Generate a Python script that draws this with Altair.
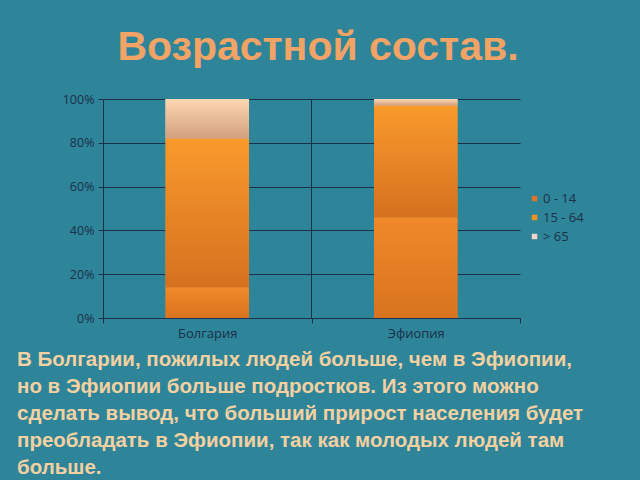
import altair as alt
import pandas as pd

countries = ["Болгария", "Эфиопия"]
groups = ["0 - 14", "15 - 64", "> 65"]
bulgaria = [14, 68, 18]
ethiopia = [46, 51, 3]
y_ticks = [0, 0.2, 0.4, 0.6, 0.8, 1.0]
title_text = "Возрастной состав."
paragraph = [
    "В Болгарии, пожилых людей больше, чем в Эфиопии,",
    "но  в  Эфиопии  больше  подростков.  Из  этого  можно",
    "сделать вывод, что  больший прирост населения будет",
    "преобладать  в Эфиопии, так как  молодых людей там",
    "больше.",
]

BG = "#2E8599"
DARK = "#1B3049"
legend_colors = ["#D9772A", "#F0901F", "#F2D4C8"]
gradients = {
    "0 - 14": ["#F0892A", "#D8731F"],
    "15 - 64": ["#F99A2C", "#D5711F"],
    "> 65": ["#FDD7B2", "#D2A07C"],
}

rows = []
for c, vals in zip(countries, [bulgaria, ethiopia]):
    for i, (g, v) in enumerate(zip(groups, vals)):
        rows.append({"country": c, "group": g, "order": i, "value": v})
df = pd.DataFrame(rows)

W, H = 417, 219
PL, PT = 103, 99

base = alt.Chart(df).transform_stack(
    stack="value", groupby=["country"], sort=[alt.SortField("order")],
    offset="normalize", as_=["y0", "y1"]
)

xenc = alt.X(
    "country:N", sort=countries, title=None,
    scale=alt.Scale(paddingInner=0, paddingOuter=0),
    axis=alt.Axis(tickBand="extent", grid=False, labelColor=DARK, labelFontSize=13,
                  labelFont="Open Sans", domainColor=DARK, tickColor=DARK, tickSize=5,
                  labelPadding=4, labelAngle=0),
)
yenc = alt.Y(
    "y0:Q", title=None,
    scale=alt.Scale(domain=[0, 1]),
    axis=alt.Axis(values=y_ticks, format=".0%", grid=True, gridColor=DARK, gridWidth=1,
                  labelColor=DARK, labelFontSize=12.5, labelFont="Open Sans",
                  domainColor=DARK, tickColor=DARK, tickSize=5, labelPadding=4),
)

legend_layer = base.mark_bar(width=alt.RelativeBandSize(0.4)).encode(
    x=xenc, y=yenc, y2="y1:Q",
    color=alt.Color("group:N", sort=groups, title=None,
                    scale=alt.Scale(domain=groups, range=legend_colors),
                    legend=alt.Legend(orient="none", legendX=425, legendY=93,
                                      symbolType="square", symbolSize=30,
                                      symbolStrokeWidth=0, labelFontSize=13,
                                      labelFont="Open Sans", labelColor=DARK,
                                      rowPadding=5, labelOffset=2)),
)

grad_layers = []
for g in groups:
    top, bot = gradients[g]
    grad_layers.append(
        base.transform_filter(alt.datum.group == g).mark_bar(
            width=alt.RelativeBandSize(0.4),
            fill=alt.Gradient(gradient="linear",
                              stops=[alt.GradientStop(color=top, offset=0),
                                     alt.GradientStop(color=bot, offset=1)],
                              x1=0, x2=0, y1=0, y2=1),
        ).encode(x=alt.X("country:N", sort=countries), y="y0:Q", y2="y1:Q")
    )

sep = alt.Chart(pd.DataFrame({"country": [countries[1]]})).mark_rule(
    color=DARK, strokeWidth=1
).encode(
    x=alt.X("country:N", sort=countries, bandPosition=0),
    y=alt.value(0), y2=alt.value(H),
)

title_layer = alt.Chart(pd.DataFrame({"t": [title_text]})).mark_text(
    font="Liberation Sans", fontWeight="bold", fontSize=41, color="#F2A365",
    align="center", baseline="alphabetic",
).encode(text="t:N", x=alt.value(318 - PL), y=alt.value(60 - PT))

pdf = pd.DataFrame({"line": paragraph, "idx": list(range(len(paragraph)))})
para_layer = alt.Chart(pdf).transform_calculate(
    ypix=f"{366 - PT} + datum.idx * 27"
).mark_text(
    font="Liberation Sans", fontWeight="bold", fontSize=20.5, color="#F4D0A2",
    align="left", baseline="alphabetic",
).encode(text="line:N", x=alt.value(17 - PL), y=alt.Y("ypix:Q", scale=None))

chart = alt.layer(legend_layer, *grad_layers, sep, title_layer, para_layer).properties(
    width=W, height=H,
    autosize=alt.AutoSizeParams(type="none"),
    padding={"left": PL, "top": PT, "right": 640 - PL - W, "bottom": 480 - PT - H},
    background=BG,
).configure_view(stroke=None)

chart.save("out.html", embed_options={"renderer": "svg", "actions": False})
